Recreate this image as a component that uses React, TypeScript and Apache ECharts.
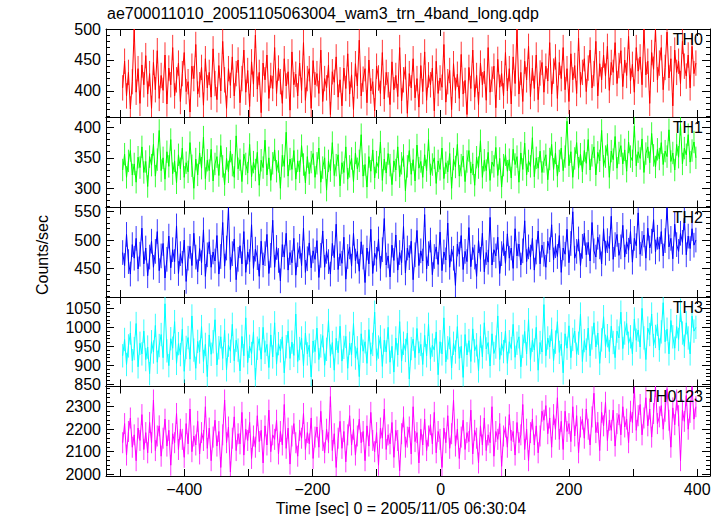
import React, { useEffect, useRef } from "react";
import * as echarts from "echarts";

// ---- data (count rates, 3 s bins starting at t = -496 s) ----
const T_START = -496;
const T_STEP = 3;

const TH0 = [
  405, 448, 392, 430, 371, 415, 500, 398, 436, 380, 442, 410, 457, 395, 428, 372, 446, 402, 465, 388,
  425, 401, 458, 379, 437, 410, 470, 392, 418, 445, 383, 428, 462, 399, 415, 366, 440, 420, 475, 395,
  410, 438, 377, 452, 405, 430, 390, 468, 412, 386, 441, 400, 480, 418, 372, 436, 409, 455, 392, 428,
  450, 381, 420, 466, 398, 433, 375, 447, 411, 490, 403, 430, 365, 445, 418, 458, 388, 425, 404, 470,
  396, 437, 415, 380, 452, 408, 431, 369, 463, 410, 427, 392, 445, 401, 478, 385, 420, 436, 372, 449,
  410, 428, 396, 466, 383, 420, 405, 442, 362, 431, 414, 455, 390, 418, 376, 437, 404, 460, 395, 426,
  370, 444, 408, 482, 392, 419, 436, 381, 450, 400, 415, 368, 440, 421, 396, 462, 387, 430, 410, 378,
  447, 402, 425, 391, 470, 384, 418, 439, 364, 428, 405, 452, 389, 420, 374, 441, 399, 463, 385, 426,
  410, 437, 368, 448, 396, 421, 406, 475, 382, 415, 433, 370, 444, 401, 427, 388, 459, 395, 417, 362,
  438, 404, 466, 390, 425, 378, 445, 410, 432, 385, 470, 398, 419, 440, 373, 451, 406, 428, 392, 462,
  400, 436, 379, 455, 412, 500, 395, 430, 383, 448, 418, 472, 391, 437, 404, 458, 386, 429, 446, 398,
  440, 416, 478, 395, 432, 455, 388, 446, 420, 470, 402, 436, 383, 460, 418, 441, 396, 485, 410, 430,
  452, 399, 437, 466, 405, 428, 480, 392, 444, 418, 458, 424, 472, 401, 446, 430, 478, 412, 441, 465,
  407, 450, 425, 488, 416, 443, 398, 470, 432, 455, 410, 500, 426, 448, 380, 462, 435, 500, 418, 445,
  470, 402, 438, 495, 421, 452, 376, 466, 430, 448, 412, 480, 440, 424, 458, 405, 472, 428, 445,
];

const TH1 = [
  330, 356, 318, 345, 362, 322, 340, 310, 351, 334, 368, 326, 344, 303, 352, 338, 372, 320, 347, 395,
  329, 350, 315, 360, 336, 380, 324, 345, 309, 355, 332, 366, 318, 342, 327, 375, 337, 300, 348, 322,
  358, 333, 384, 316, 346, 329, 364, 312, 340, 352, 321, 370, 336, 306, 349, 327, 361, 338, 318, 386,
  332, 347, 311, 356, 340, 325, 372, 319, 343, 330, 359, 305, 346, 334, 379, 322, 350, 313, 341, 363,
  328, 344, 300, 354, 336, 392, 320, 348, 331, 362, 315, 345, 327, 370, 339, 309, 352, 324, 343, 357,
  318, 341, 366, 310, 334, 350, 297, 345, 329, 375, 321, 338, 355, 304, 342, 326, 368, 315, 336, 349,
  311, 358, 332, 345, 388, 320, 339, 302, 352, 328, 363, 317, 343, 334, 376, 313, 348, 325, 357, 338,
  306, 345, 330, 368, 319, 341, 354, 296, 336, 362, 323, 347, 312, 371, 333, 344, 318, 355, 329, 380,
  322, 339, 350, 308, 345, 331, 366, 316, 342, 327, 357, 300, 348, 335, 372, 320, 338, 353, 311, 344,
  362, 325, 340, 305, 351, 334, 378, 318, 346, 329, 359, 313, 343, 336, 367, 321, 349, 302, 338, 355,
  328, 347, 317, 364, 339, 352, 310, 358, 331, 374, 322, 345, 336, 383, 319, 350, 333, 361, 326, 344,
  355, 314, 348, 372, 331, 358, 320, 345, 366, 329, 352, 410, 337, 360, 318, 349, 375, 333, 356, 327,
  362, 341, 380, 330, 354, 368, 322, 359, 345, 395, 336, 352, 372, 318, 361, 347, 385, 333, 358, 370,
  340, 363, 328, 376, 352, 345, 402, 337, 360, 349, 381, 326, 357, 368, 342, 390, 354, 335, 364, 348,
  375, 339, 361, 352, 396, 344, 358, 330, 372, 351, 405, 340, 366, 355, 388, 343, 362, 376, 350,
];

const TH2 = [
  478, 455, 510, 462, 440, 492, 468, 503, 449, 475, 521, 458, 486, 437, 470, 498, 452, 480, 515, 446,
  472, 494, 433, 466, 507, 451, 483, 462, 525, 441, 476, 459, 500, 427, 468, 489, 455, 512, 470, 444,
  485, 460, 518, 436, 474, 497, 452, 479, 463, 508, 440, 471, 531, 454, 486, 557, 448, 476, 502, 430,
  466, 490, 458, 515, 443, 479, 462, 527, 450, 484, 469, 436, 498, 456, 476, 510, 441, 473, 535, 452,
  487, 464, 428, 492, 470, 512, 447, 478, 460, 503, 438, 474, 489, 455, 521, 443, 467, 495, 451, 481,
  466, 499, 434, 473, 516, 452, 480, 462, 440, 494, 469, 528, 448, 476, 459, 505, 431, 471, 488, 454,
  512, 463, 480, 445, 497, 470, 425, 486, 458, 519, 441, 477, 466, 502, 450, 483, 538, 456, 472, 435,
  491, 464, 509, 447, 478, 460, 524, 442, 486, 469, 498, 430, 474, 517, 455, 481, 463, 545, 449, 476,
  500, 439, 471, 488, 457, 514, 446, 479, 465, 530, 452, 484, 468, 420, 493, 475, 508, 448, 480, 462,
  522, 453, 487, 470, 436, 499, 466, 512, 444, 478, 461, 540, 456, 483, 472, 505, 441, 476, 494, 459,
  511, 468, 486, 450, 520, 472, 493, 456, 481, 534, 462, 488, 470, 503, 447, 479, 516, 458, 491, 475,
  452, 498, 483, 527, 465, 490, 471, 508, 443, 486, 475, 519, 460, 494, 550, 468, 480, 502, 455, 489,
  512, 474, 496, 463, 531, 481, 470, 505, 488, 458, 520, 477, 499, 485, 542, 466, 492, 510, 473, 488,
  526, 470, 497, 482, 515, 461, 503, 490, 548, 475, 494, 509, 468, 521, 486, 498, 536, 479, 505, 484,
  515, 472, 499, 557, 488, 503, 467, 528, 492, 480, 512, 496, 539, 474, 507, 485, 520, 491, 500,
];

const TH3 = [
  925, 968, 902, 951, 985, 912, 944, 1010, 896, 958, 930, 990, 915, 948, 878, 962, 935, 1005, 908, 952,
  981, 920, 1062, 938, 899, 970, 945, 1015, 905, 957, 928, 995, 884, 947, 973, 916, 1030, 940, 892, 963,
  935, 1002, 910, 955, 870, 980, 929, 962, 1020, 901, 946, 975, 918, 992, 888, 953, 937, 1008, 912, 966,
  940, 885, 976, 925, 1025, 907, 950, 931, 988, 862, 945, 970, 916, 1000, 934, 955, 894, 980, 922, 1012,
  903, 957, 938, 975, 880, 949, 990, 918, 961, 926, 1035, 910, 944, 972, 898, 985, 930, 953, 869, 964,
  936, 998, 915, 951, 978, 900, 942, 1018, 924, 960, 887, 971, 933, 1003, 911, 947, 976, 892, 958, 928,
  1010, 919, 946, 870, 983, 937, 962, 905, 994, 929, 955, 1040, 913, 948, 975, 897, 966, 935, 1000, 908,
  950, 882, 972, 927, 1015, 911, 958, 939, 985, 864, 944, 969, 920, 997, 932, 955, 902, 979, 925, 1008,
  916, 953, 940, 988, 875, 962, 930, 1025, 909, 946, 973, 893, 958, 935, 1002, 918, 950, 868, 981, 927,
  965, 910, 996, 938, 954, 885, 977, 922, 1012, 943, 960, 898, 983, 931, 948, 1030, 915, 957, 936, 990,
  905, 962, 944, 1008, 921, 958, 975, 896, 950, 989, 930, 1020, 915, 966, 940, 1000, 887, 960, 935, 1060,
  925, 972, 948, 995, 912, 961, 1015, 934, 956, 880, 983, 945, 1004, 920, 968, 990, 929, 958, 1035, 910,
  965, 940, 998, 925, 972, 1012, 948, 985, 905, 967, 1028, 950, 978, 936, 1003, 960, 920, 990, 972, 1040,
  944, 985, 1010, 958, 975, 930, 1022, 966, 993, 948, 1050, 972, 915, 998, 981, 1035, 952, 976, 1008, 940,
  988, 1065, 962, 995, 930, 1018, 975, 945, 1002, 968, 1045, 985, 950, 1012, 972, 930, 1030, 990, 1000,
];

const TH0123 = [
  2140, 2225, 2085, 2190, 2250, 2120, 2175, 2060, 2205, 2150, 2265, 2110, 2185, 2095, 2230, 2140, 2330, 2105, 2170, 2215,
  2080, 2160, 2245, 2125, 2195, 2040, 2180, 2140, 2270, 2110, 2200, 2155, 2075, 2225, 2135, 2290, 2100, 2170, 2130, 2235,
  2090, 2185, 2150, 2300, 2115, 2205, 2060, 2165, 2240, 2125, 2190, 2030, 2175, 2330, 2140, 2210, 2010, 2160, 2255, 2105,
  2180, 2135, 2275, 2085, 2200, 2150, 2230, 2070, 2170, 2120, 2260, 2145, 2195, 2050, 2215, 2130, 2285, 2100, 2175, 2155,
  2240, 2090, 2190, 2130, 2310, 2115, 2205, 2045, 2170, 2225, 2140, 2080, 2195, 2160, 2270, 2110, 2185, 2135, 2250, 2070,
  2165, 2210, 2120, 2280, 2150, 2095, 2200, 2140, 2345, 2105, 2180, 2030, 2160, 2235, 2115, 2190, 2055, 2175, 2260, 2130,
  2200, 2085, 2170, 2245, 2140, 2190, 2060, 2215, 2125, 2275, 2150, 2100, 2185, 2040, 2205, 2160, 2290, 2110, 2175, 2135,
  2230, 2075, 2195, 2150, 2015, 2180, 2255, 2120, 2165, 2210, 2090, 2300, 2145, 2185, 2050, 2200, 2130, 2245, 2105, 2170,
  2220, 2135, 2275, 2095, 2190, 2155, 2030, 2205, 2140, 2260, 2115, 2180, 2330, 2125, 2200, 2070, 2165, 2240, 2110, 2185,
  2145, 2285, 2090, 2195, 2160, 2050, 2215, 2130, 2250, 2105, 2175, 2140, 2300, 2080, 2190, 2155, 2225, 2035, 2170, 2210,
  2120, 2265, 2150, 2190, 2085, 2230, 2140, 2175, 2310, 2110, 2200, 2060, 2185, 2245, 2130, 2215, 2095, 2170, 2280, 2240,
  2305, 2180, 2250, 2120, 2265, 2200, 2340, 2155, 2235, 2110, 2280, 2190, 2225, 2145, 2300, 2170, 2260, 2095, 2210, 2245,
  2160, 2290, 2200, 2130, 2255, 2360, 2185, 2230, 2105, 2275, 2215, 2320, 2150, 2240, 2195, 2285, 2125, 2225, 2265, 2175,
  2300, 2210, 2245, 2140, 2280, 2230, 2385, 2195, 2260, 2310, 2175, 2250, 2340, 2215, 2290, 2165, 2270, 2390, 2225, 2255,
  2305, 2200, 2280, 2380, 2240, 2120, 2295, 2220, 2330, 2260, 2060, 2285, 2235, 2350, 2200, 2275, 2390, 2245, 2300,
];

const BAND_NAMES = ["TH0", "TH1", "TH2", "TH3", "TH0123"];
const BAND_VALUES = [TH0, TH1, TH2, TH3, TH0123];
// typical 1-sigma error of one 1 s bin, per band (counts/sec)
const BAND_ERRORS = [20.5, 18.4, 21.8, 30.8, 46.7];

const X_MIN = -522;
const X_MAX = 420;
const X_TICKS = [-500, -400, -300, -200, -100, 0, 100, 200, 300, 400];
const X_LABELS = [-400, -200, 0, 200, 400];

const Y_MIN = [358, 268.5, 399.5, 844, 1992];
const Y_MAX = [500, 417, 557.5, 1080, 2390];
const Y_LABELS = [
  [400, 450, 500],
  [300, 350, 400],
  [450, 500, 550],
  [850, 900, 950, 1000, 1050],
  [2000, 2100, 2200, 2300],
];
const Y_MINOR_STEP = [10, 10, 10, 10, 20];

const TITLE = "ae700011010_20051105063004_wam3_trn_4band_long.qdp";
const X_NAME = "Time [sec] 0 = 2005/11/05 06:30:04";
const Y_NAME = "Counts/sec";

// ---- layout / style ----
const COLORS = ["#ff0000", "#00ff00", "#0000ff", "#00ffff", "#ff00ff"];
const PANEL_EDGES = [29, 117, 207.5, 297, 386.5, 476];
const LEFT = 106;
const RIGHT = 710;
const W = 724;
const H = 516;
const FONT = '"Liberation Sans", Arial, Helvetica, sans-serif';

const fmt = (v: number) => String(v).replace("-", "\u2212");

export default function App() {
  const ref = useRef<HTMLDivElement>(null);

  useEffect(() => {
    document.body.style.margin = "0";
    if (!ref.current) return;
    const chart = echarts.init(ref.current, null, { renderer: "svg" });

    const times = TH0.map((_, i) => T_START + i * T_STEP);

    const grid: any[] = [];
    const xAxis: any[] = [];
    const yAxis: any[] = [];
    const series: any[] = [];
    const graphic: any[] = [];

    const line = { show: true, onZero: false, lineStyle: { color: "#000", width: 1 } };

    BAND_NAMES.forEach((name, i) => {
      const top = PANEL_EDGES[i];
      const height = PANEL_EDGES[i + 1] - PANEL_EDGES[i];
      grid.push({ left: LEFT, right: W - RIGHT, top, height, containLabel: false });

      const minorVals: number[] = [];
      const step = Y_MINOR_STEP[i];
      for (let v = Math.ceil(Y_MIN[i] / step) * step; v <= Y_MAX[i]; v += step) minorVals.push(v);

      ["bottom", "top"].forEach((pos) => {
        xAxis.push({
          type: "value",
          gridIndex: i,
          position: pos,
          min: X_MIN,
          max: X_MAX,
          axisLine: line,
          axisTick: { show: true, inside: true, length: 7, customValues: X_TICKS, lineStyle: { color: "#000" } },
          axisLabel: {
            show: pos === "bottom" && i === BAND_NAMES.length - 1,
            customValues: X_LABELS,
            margin: 5,
            fontSize: 16,
            color: "#000",
            fontFamily: FONT,
            formatter: fmt,
          },
          splitLine: { show: false },
        });
      });

      ["left", "right"].forEach((pos) => {
        yAxis.push({
          type: "value",
          gridIndex: i,
          position: pos,
          min: Y_MIN[i],
          max: Y_MAX[i],
          axisLine: line,
          axisTick: { show: true, inside: true, length: 8, customValues: Y_LABELS[i], lineStyle: { color: "#000" } },
          axisLabel: {
            show: pos === "left",
            customValues: Y_LABELS[i],
            margin: 5,
            fontSize: 16,
            color: "#000",
            fontFamily: FONT,
            formatter: (v: number) => String(v),
          },
          splitLine: { show: false },
        });
        yAxis.push({
          type: "value",
          gridIndex: i,
          position: pos,
          min: Y_MIN[i],
          max: Y_MAX[i],
          axisLine: { show: false, onZero: false },
          axisTick: { show: true, inside: true, length: 4, customValues: minorVals, lineStyle: { color: "#000" } },
          axisLabel: { show: false },
          splitLine: { show: false },
        });
      });

      const pts = times.map((t, j) => [t, BAND_VALUES[i][j]]);
      const err = BAND_ERRORS[i];

      // error bars
      series.push({
        type: "custom",
        name: name + " err",
        xAxisIndex: i * 2,
        yAxisIndex: i * 4,
        data: pts,
        clip: true,
        z: 1,
        renderItem: (params: any, api: any) => {
          const x = api.value(0);
          const y = api.value(1);
          const p1 = api.coord([x, y - err]);
          const p2 = api.coord([x, y + err]);
          return {
            type: "line",
            shape: { x1: p1[0], y1: p1[1], x2: p2[0], y2: p2[1] },
            style: { stroke: COLORS[i], lineWidth: 1, opacity: 0.8 },
          };
        },
      });

      series.push({
        type: "line",
        name,
        xAxisIndex: i * 2,
        yAxisIndex: i * 4,
        data: pts,
        showSymbol: false,
        symbol: "none",
        clip: true,
        lineStyle: { color: COLORS[i], width: 1 },
        itemStyle: { color: COLORS[i] },
        z: 2,
      });

      graphic.push({
        type: "text",
        right: W - 703,
        top: top + 2,
        z: 100,
        style: { text: name, font: `16px ${FONT}`, fill: "#000" },
      });
    });

    graphic.push({
      type: "text",
      left: LEFT + 1,
      top: 5,
      style: { text: TITLE, font: `16px ${FONT}`, fill: "#000" },
    });
    graphic.push({
      type: "text",
      x: 401,
      y: 508,
      style: { text: X_NAME, font: `16px ${FONT}`, fill: "#000", align: "center", verticalAlign: "middle" },
    });
    graphic.push({
      type: "text",
      x: 42,
      y: 255,
      rotation: Math.PI / 2,
      style: { text: Y_NAME, font: `16px ${FONT}`, fill: "#000", align: "center", verticalAlign: "middle" },
    });

    chart.setOption({
      animation: false,
      backgroundColor: "#fff",
      grid,
      xAxis,
      yAxis,
      series,
      graphic,
    });

    return () => chart.dispose();
  }, []);

  return <div ref={ref} style={{ width: W, height: H }} />;
}
